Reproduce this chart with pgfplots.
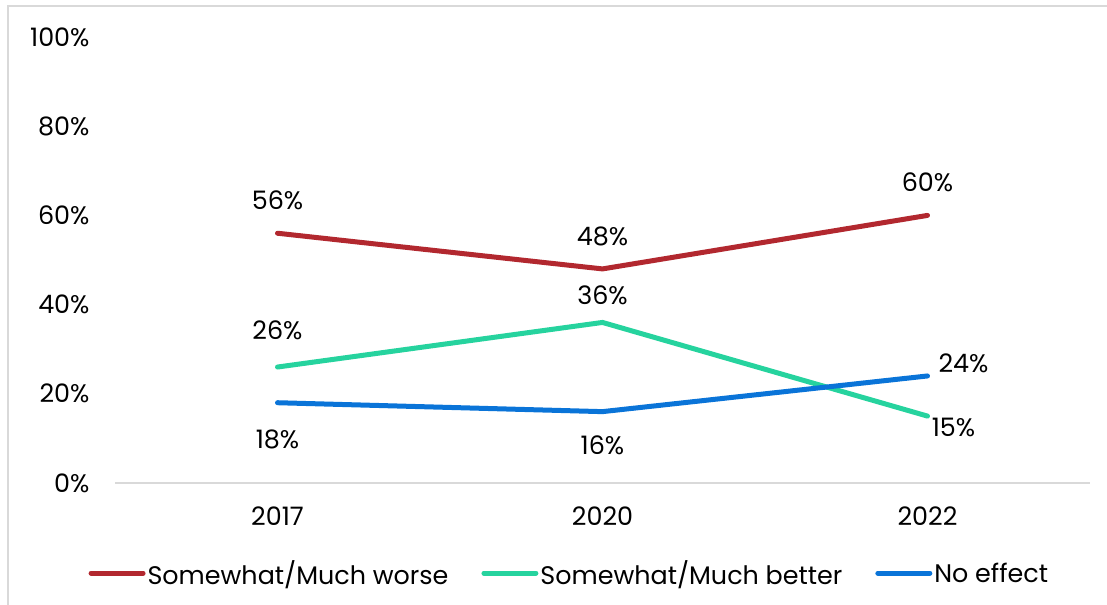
\documentclass[border=0pt]{standalone}
\usepackage{fontspec}
\setmainfont{Poppins}
\usepackage{pgfplots}
\pgfplotsset{compat=1.18}
\definecolor{worse}{HTML}{B2282F}
\definecolor{better}{HTML}{26D39E}
\definecolor{noeff}{HTML}{0A74D8}
\definecolor{axgray}{HTML}{D9D9D9}

\pgfplotstableread{
x y dx dy
0 56 0 33
1 48 0 32
2 60 0 33
}\worsetab
\pgfplotstableread{
x y dx dy
0 26 0 37
1 36 0 27
2 15 26 -11
}\bettertab
\pgfplotstableread{
x y dx dy
0 18 0 -37
1 16 0 -34
2 24 36 13
}\noefftab

\begin{document}
\begin{tikzpicture}
\useasboundingbox (0,0) rectangle (1107bp,605bp);
\draw[axgray, line width=1.5bp] (8bp,-10bp) -- (8bp,599bp) -- (1120bp,599bp);
\begin{axis}[
    at={(115bp,122bp)}, anchor=south west,
    scale only axis,
    width=975bp, height=446bp,
    xmin=-0.5, xmax=2.5,
    ymin=0, ymax=100,
    xtick={0,1,2},
    xticklabels={2017,2020,2022},
    ytick={0,20,40,60,80,100},
    yticklabel={\pgfmathprintnumber{\tick}\%},
    /pgf/number format/assume math mode=true,
    font=\fontsize{25.5}{30}\selectfont,
    major tick length=0,
    axis x line=bottom,
    axis y line=left,
    x axis line style={-, draw=axgray, line width=1.5bp},
    y axis line style={draw=none},
    xticklabel style={yshift=-20bp},
    yticklabel style={anchor=east, xshift=-22bp},
    clip=false,
    nodes near coords={\pgfmathprintnumber{\pgfplotspointmeta}\%},
    visualization depends on={\thisrow{dx} \as \dx},
    visualization depends on={\thisrow{dy} \as \dy},
    every node near coord/.append style={anchor=center, xshift=\dx bp, yshift=\dy bp, text=black},
    legend columns=3,
    legend style={at={(0.466,-0.202)}, anchor=center, draw=none, fill=none,
        /tikz/every even column/.append style={column sep=31bp}},
    legend image code/.code={\draw[#1, line cap=round] (0bp,0bp) -- (52bp,0bp);},
    legend cell align=left,
]
\addplot[worse, line width=5bp, line cap=round] table[x=x, y=y] {\worsetab};
\addlegendentry{Somewhat/Much worse}
\addplot[better, line width=5bp, line cap=round] table[x=x, y=y] {\bettertab};
\addlegendentry{Somewhat/Much better}
\addplot[noeff, line width=5bp, line cap=round] table[x=x, y=y] {\noefftab};
\addlegendentry{No effect}
\end{axis}
\end{tikzpicture}
\end{document}
